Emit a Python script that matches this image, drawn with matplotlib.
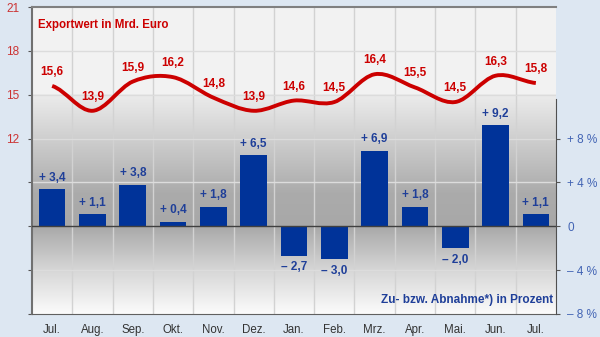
import numpy as np
import matplotlib.pyplot as plt
from matplotlib.path import Path
from matplotlib.patches import PathPatch
from matplotlib.colors import LinearSegmentedColormap

plt.rcParams['font.family'] = ['Liberation Sans', 'DejaVu Sans']

months = ['Jul.', 'Aug.', 'Sep.', 'Okt.', 'Nov.', 'Dez.', 'Jan.', 'Feb.',
          'Mrz.', 'Apr.', 'Mai.', 'Jun.', 'Jul.']
export = [15.6, 13.9, 15.9, 16.2, 14.8, 13.9, 14.6, 14.5, 16.4, 15.5, 14.5, 16.3, 15.8]
change = [3.4, 1.1, 3.8, 0.4, 1.8, 6.5, -2.7, -3.0, 6.9, 1.8, -2.0, 9.2, 1.1]
left_ticks = [12, 15, 18, 21]
right_ticks = [-8, -4, 0, 4, 8]
right_labels = ['\u2013 8 %', '\u2013 4 %', '0', '+ 4 %', '+ 8 %']

red = '#cc0000'
blue = '#003399'
lblue = '#1f3f99'

fig = plt.figure(figsize=(6, 3.37), dpi=100)
fig.patch.set_facecolor('#dde7f2')
ax = fig.add_axes([32/600, 23/337, 524/600, 307/337])
ax.set_facecolor('#f2f2f2')
ax.set_xlim(-0.5, 12.5)
ax.set_ylim(0, 21)

# gray gradient in the lower part
cmap = LinearSegmentedColormap.from_list('g', [
    (0.0, '#fbfbfb'), (0.2, '#d6d6d6'), (0.4, '#a8a8a8'),
    (0.55, '#ababab'), (0.8, '#cfcfcf'), (1.0, '#ececec')])
grad = np.linspace(0, 1, 256).reshape(-1, 1)
ax.imshow(grad, extent=[-0.5, 12.5, 0, 15], origin='lower', cmap=cmap,
          aspect='auto', zorder=0)

for xv in np.arange(0.5, 12.5, 1):
    ax.axvline(xv, color='#d2d2d2', lw=1, zorder=1)
for yv in [3, 9, 12, 15, 18]:
    ax.axhline(yv, color='#dcdcdc', lw=1, zorder=1)

ax2 = ax.twinx()
ax2.set_ylim(-8, 20)
x = np.arange(len(months))
ax2.bar(x, change, width=0.66, color=blue, zorder=3)
ax2.axhline(0, color='#404040', lw=1, zorder=4)
for xi, v in zip(x, change):
    s = ('+ ' if v >= 0 else '\u2013 ') + f'{abs(v):.1f}'.replace('.', ',')
    if v >= 0:
        ax2.text(xi, v + 0.5, s, ha='center', va='bottom', color=lblue,
                 fontsize=8.5, fontweight='bold')
    else:
        ax2.text(xi, v - 0.5, s, ha='center', va='top', color=lblue,
                 fontsize=8.5, fontweight='bold')

# smooth export line (bezier through the points)
ys = np.array(export)
verts = [(0, ys[0])]
codes = [Path.MOVETO]
n = len(ys)
for i in range(n - 1):
    y0 = ys[i - 1] if i > 0 else ys[i]
    y3 = ys[i + 2] if i + 2 < n else ys[i + 1]
    c1 = (i + 1/3, ys[i] + (ys[i + 1] - y0) / 6)
    c2 = (i + 2/3, ys[i + 1] - (y3 - ys[i]) / 6)
    verts += [c1, c2, (i + 1, ys[i + 1])]
    codes += [Path.CURVE4] * 3
line = PathPatch(Path(verts, codes), fill=False, edgecolor=red, lw=2.8,
                 capstyle='butt', transform=ax.transData, zorder=5)
ax2.add_patch(line)
for xi, v in zip(x, export):
    ax2.text(xi, (v + 0.55 - 21) * 28 / 21 + 20, f'{v:.1f}'.replace('.', ','),
             ha='center', va='bottom', color=red, fontsize=8.5, fontweight='bold',
             zorder=6)

ax.text(0.012, 0.94, 'Exportwert in Mrd. Euro', transform=ax.transAxes,
        color=red, fontsize=8.3, fontweight='bold', va='center')
ax.text(0.995, 0.045, 'Zu- bzw. Abnahme*) in Prozent', transform=ax.transAxes,
        color=lblue, fontsize=8.5, fontweight='bold', ha='right', va='center')

ax.set_yticks([0, 3, 6, 9, 12, 15, 18, 21])
ax.set_yticklabels(['', '', '', '', '12', '15', '18', '21'])
ax.tick_params(axis='y', colors='#555555', labelcolor='#cc3333', labelsize=8.5,
               length=3, pad=6)
ax.set_xticks(x)
ax.set_xticklabels(months)
ax.tick_params(axis='x', length=0, labelsize=8.3, labelcolor='#333333', pad=7)

ax2.set_yticks(right_ticks)
ax2.set_yticklabels(right_labels)
ax2.tick_params(axis='y', colors='#555555', labelcolor='#4264b4', labelsize=8.5,
                length=3, pad=5)

for a in (ax, ax2):
    for sp in a.spines.values():
        sp.set_visible(False)
ax.spines['left'].set_visible(True)
ax.spines['left'].set_color('#707070')
ax.spines['left'].set_linewidth(1.5)
ax.spines['top'].set_visible(True)
ax.spines['top'].set_color('#808080')
ax.spines['top'].set_linewidth(1.5)
ax.spines['bottom'].set_visible(True)
ax.spines['bottom'].set_color('#606060')
ax2.spines['right'].set_visible(True)
ax2.spines['right'].set_color('#505050')
ax2.spines['right'].set_bounds(-8, 11.6)

fig.savefig('out.png', dpi=100, facecolor=fig.get_facecolor())
